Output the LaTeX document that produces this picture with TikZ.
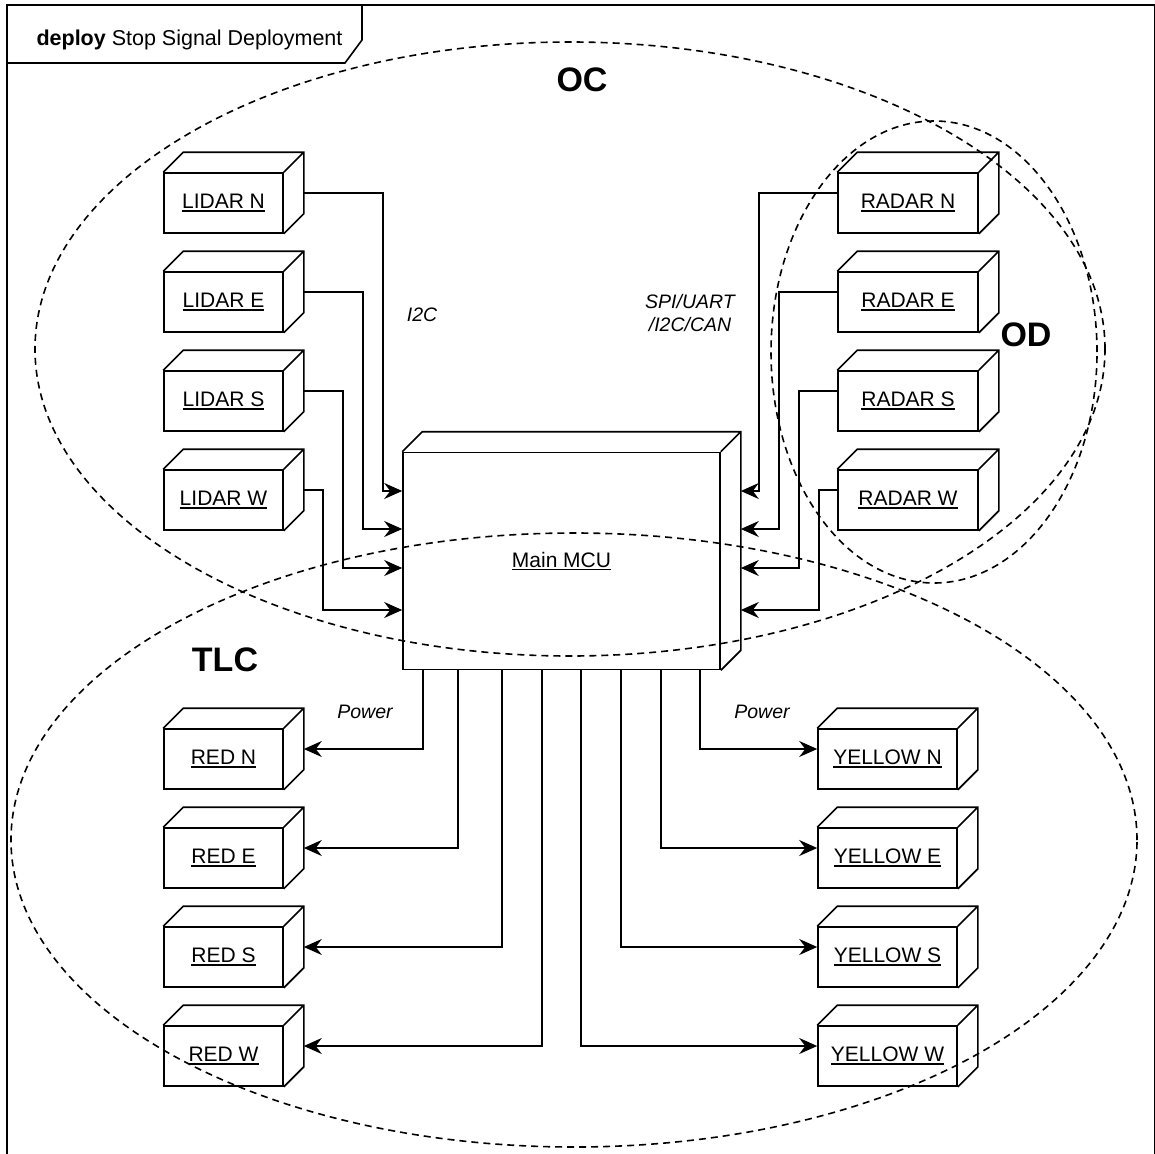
\documentclass[tikz,border=0pt]{standalone}
\usepackage{fontspec}
\setmainfont{Liberation Sans}
\usepackage{tikz}
\usetikzlibrary{arrows.meta, positioning}

\newcommand{\ulab}[1]{\setbox0\hbox{#1}\rlap{\rule[-3pt]{\wd0}{1.4pt}}\box0}
\newcommand{\depthbox}[1]{\draw[line width=1.6pt] (#1.north west) -- ++(20pt,20pt) -| ([shift={(20pt,20pt)}]#1.south east) -- (#1.south east) (#1.north east) -- ++(20pt,20pt);}

\begin{document}
\begin{tikzpicture}[x=1pt, y=-1pt, node distance=99pt]
    \tikzstyle{cube} = [rectangle, draw, line width=1.6pt, fill=white, minimum height=60pt, inner sep=0pt, font=\fontsize{21}{25}\selectfont]
    \tikzstyle{wire} = [draw, line width=1.6pt, -{Stealth[length=18pt, width=16pt, inset=6pt]}]
    \tikzstyle{zone} = [draw, line width=1.6pt, dash pattern=on 7pt off 5pt]
    \tikzstyle{tag} = [font=\fontsize{19.5}{23}\selectfont\itshape, align=center]
    \tikzstyle{zonelabel} = [font=\fontsize{34}{40}\selectfont\bfseries]

    \useasboundingbox (0,0) rectangle (1155,1153);
    \draw[line width=1.6pt] (7,5) rectangle (1155,1170);
    \draw[line width=1.6pt] (7,63) -- (345,63) -- (362,40) -- (362,5);
    \node[anchor=base west, font=\fontsize{21.5}{26}\selectfont] (title) at (33,46) {\textbf{deploy} Stop Signal Deployment};

    \node[cube, minimum width=317pt, minimum height=217pt] (mcu) at (561.5,561) {\ulab{Main MCU}};
    \coordinate (mcuR) at ([xshift=20pt]mcu.east);

    \node[cube, minimum width=119pt] (lidarN) at (223.5,203) {\ulab{LIDAR N}};
    \node[cube, minimum width=119pt, below of=lidarN] (lidarE) {\ulab{LIDAR E}};
    \node[cube, minimum width=119pt, below of=lidarE] (lidarS) {\ulab{LIDAR S}};
    \node[cube, minimum width=119pt, below of=lidarS] (lidarW) {\ulab{LIDAR W}};

    \node[cube, minimum width=140pt] (radarN) at (908,203) {\ulab{RADAR N}};
    \node[cube, minimum width=140pt, below of=radarN] (radarE) {\ulab{RADAR E}};
    \node[cube, minimum width=140pt, below of=radarE] (radarS) {\ulab{RADAR S}};
    \node[cube, minimum width=140pt, below of=radarS] (radarW) {\ulab{RADAR W}};

    \node[cube, minimum width=119pt] (redN) at (223.5,759) {\ulab{RED N}};
    \node[cube, minimum width=119pt, below of=redN] (redE) {\ulab{RED E}};
    \node[cube, minimum width=119pt, below of=redE] (redS) {\ulab{RED S}};
    \node[cube, minimum width=119pt, below of=redS] (redW) {\ulab{RED W}};

    \node[cube, minimum width=139pt] (yellowN) at (887.5,759) {\ulab{YELLOW N}};
    \node[cube, minimum width=139pt, below of=yellowN] (yellowE) {\ulab{YELLOW E}};
    \node[cube, minimum width=139pt, below of=yellowE] (yellowS) {\ulab{YELLOW S}};
    \node[cube, minimum width=139pt, below of=yellowS] (yellowW) {\ulab{YELLOW W}};

    \foreach \n in {mcu, lidarN, lidarE, lidarS, lidarW, radarN, radarE, radarS, radarW, redN, redE, redS, redW, yellowN, yellowE, yellowS, yellowW}
        \depthbox{\n};

    % sensors into the MCU
    \foreach \d/\vx/\my in {N/383/491, E/363/529, S/343/568, W/323/610}
        \path[wire] ([shift={(20pt,10pt)}]lidar\d.east) -| (\vx,\my) -- (mcu.west |- 0,\my);
    \foreach \d/\vx/\my in {N/759/491, E/779/529, S/799/568, W/819/610}
        \path[wire] ([yshift=10pt]radar\d.west) -| (\vx,\my) -- (mcuR |- 0,\my);

    % power out to the lights
    \foreach \d/\vx in {N/423, E/458, S/502, W/542}
        \path[wire] (mcu.south -| \vx,0) |- ([shift={(20pt,10pt)}]red\d.east);
    \foreach \d/\vx in {N/700, E/661, S/621, W/581}
        \path[wire] (mcu.south -| \vx,0) |- ([yshift=10pt]yellow\d.west);

    \node[tag] (i2c) at (422,315) {I2C};
    \node[tag] (bus) at (690,313) {SPI/UART\\/I2C/CAN};
    \node[tag] (pwrL) at (365,712) {Power};
    \node[tag] (pwrR) at (762,712) {Power};

    \node[zonelabel] (ocLabel) at (582,80) {OC};
    \node[zonelabel] (odLabel) at (1026,335) {OD};
    \node[zonelabel] (tlcLabel) at (225,660) {TLC};

    \draw[zone] (570,349) ellipse [x radius=535pt, y radius=307pt];
    \draw[zone] (934,352) ellipse [x radius=163pt, y radius=231pt];
    \draw[zone] (574,840) ellipse [x radius=563pt, y radius=307pt];
\end{tikzpicture}
\end{document}
